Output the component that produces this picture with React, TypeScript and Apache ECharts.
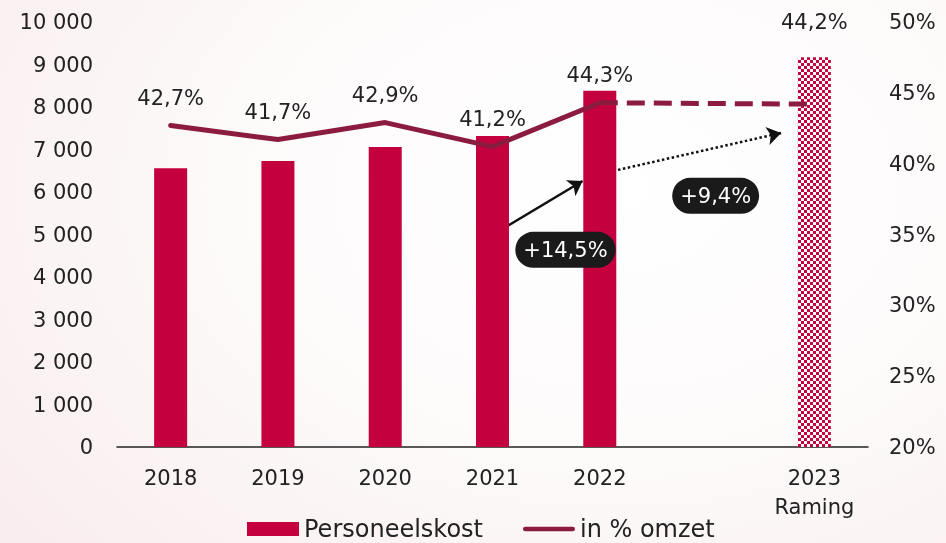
import React, { useEffect, useRef } from "react";
import * as echarts from "echarts";

const categories = ["2018", "2019", "2020", "2021", "2022", "", "2023\nRaming"];
const personeelskost = [6560, 6730, 7060, 7320, 8380, null, 9170];
const pctOmzet = [42.7, 41.7, 42.9, 41.2, 44.3, null, null];
const pctRaming = [null, null, null, null, 44.3, null, 44.2];
const arrowSolid = [[3.14, 5200], [3.84, 6260]];
const arrowDotted = [[4.17, 6520], [5.69, 7390]];
const growthLabels = [
  { text: "+14,5%", pos: [3.68, 4640] },
  { text: "+9,4%", pos: [5.08, 5910] },
];

const FONT = "DejaVu Sans";
const BAR = "#c5003e";
const LINE = "#8c1b40";
const TXT = "#222222";

const fmtPct = (v: number) => v.toFixed(1).replace(".", ",") + "%";

export default function App() {
  const ref = useRef<HTMLDivElement>(null);
  useEffect(() => {
    if (!ref.current) return;
    const chart = echarts.init(ref.current, null, { renderer: "svg" });
    const cv = document.createElement("canvas");
    cv.width = 6;
    cv.height = 6;
    const ctx = cv.getContext("2d")!;
    ctx.fillStyle = "#ffffff";
    ctx.fillRect(0, 0, 6, 6);
    ctx.fillStyle = BAR;
    ctx.fillRect(0, 0, 3, 3);
    ctx.fillRect(3, 3, 3, 3);

    const barData = personeelskost.map((v, i) =>
      i === 6
        ? { value: v, itemStyle: { color: { image: cv, repeat: "repeat" } } }
        : v
    );
    const lineLabel = {
      show: true,
      position: "top",
      distance: 17,
      fontFamily: FONT,
      fontSize: 21,
      color: TXT,
      formatter: (p: any) => fmtPct(p.value),
    };
    const ramingData = pctRaming.map((v, i) =>
      i === 6
        ? {
            value: v,
            label: {
              show: true,
              position: "top",
              distance: 72,
              fontFamily: FONT,
              fontSize: 21,
              color: TXT,
              formatter: (p: any) => fmtPct(p.value),
            },
          }
        : v
    );

    chart.setOption({
      animation: false,
      backgroundColor: "transparent",
      textStyle: { fontFamily: FONT },
      grid: { left: 117, right: 78, top: 22, bottom: 96, containLabel: false },
      legend: {
        left: 247,
        top: 517,
        padding: 0,
        itemWidth: 52,
        itemHeight: 14,
        itemGap: 40,
        textStyle: { fontFamily: FONT, fontSize: 24, lineHeight: 24, color: TXT },
        data: [
          { name: "Personeelskost", icon: "rect" },
          {
            name: "in % omzet",
            icon: "path://M2.5,0 L54.5,0 A2.5,2.5 0 0 1 54.5,5 L2.5,5 A2.5,2.5 0 0 1 2.5,0 Z",
            itemStyle: { color: LINE },
          },
        ],
      },
      xAxis: [
        {
          type: "category",
          data: categories,
          axisLine: { show: true, lineStyle: { color: TXT, width: 1.5 } },
          axisTick: { show: false },
          axisLabel: {
            margin: 16,
            fontFamily: FONT,
            fontSize: 21,
            lineHeight: 29,
            color: TXT,
          },
        },
        { type: "value", min: -0.5, max: 6.5, show: false },
      ],
      yAxis: [
        {
          type: "value",
          min: 0,
          max: 10000,
          interval: 1000,
          splitLine: { show: false },
          axisLine: { show: false },
          axisTick: { show: false },
          axisLabel: {
            margin: 24,
            fontFamily: FONT,
            fontSize: 21,
            color: TXT,
            formatter: (v: number) =>
              String(v).replace(/\B(?=(\d{3})+(?!\d))/g, " "),
          },
        },
        {
          type: "value",
          min: 20,
          max: 50,
          interval: 5,
          splitLine: { show: false },
          axisLine: { show: false },
          axisTick: { show: false },
          axisLabel: {
            margin: 21,
            fontFamily: FONT,
            fontSize: 21,
            color: TXT,
            formatter: "{value}%",
          },
        },
      ],
      series: [
        {
          name: "Personeelskost",
          type: "bar",
          barWidth: 33,
          data: barData,
          itemStyle: { color: BAR },
          silent: true,
        },
        {
          name: "in % omzet",
          type: "line",
          yAxisIndex: 1,
          data: pctOmzet,
          symbol: "circle",
          symbolSize: 0,
          showSymbol: true,
          lineStyle: { color: LINE, width: 5, cap: "round", join: "round" },
          itemStyle: { color: LINE },
          label: lineLabel,
          silent: true,
        },
        {
          name: "raming",
          type: "line",
          yAxisIndex: 1,
          data: ramingData,
          connectNulls: true,
          symbol: "circle",
          symbolSize: 0,
          showSymbol: true,
          itemStyle: { color: LINE },
          lineStyle: { color: LINE, width: 5, type: [18, 9] },
          silent: true,
        },
        {
          type: "lines",
          coordinateSystem: "cartesian2d",
          xAxisIndex: 1,
          yAxisIndex: 0,
          symbol: ["none", "arrow"],
          symbolSize: 14,
          silent: true,
          data: [
            { coords: arrowSolid, lineStyle: { type: "solid" } },
            { coords: arrowDotted, lineStyle: { type: [2.5, 2.5] } },
          ],
          lineStyle: { color: "#111111", width: 2.5, opacity: 1 },
        },
        {
          type: "scatter",
          xAxisIndex: 1,
          yAxisIndex: 0,
          symbolSize: 1,
          itemStyle: { color: "rgba(0,0,0,0)", opacity: 1 },
          silent: true,
          data: growthLabels.map((g) => ({ value: g.pos, name: g.text })),
          label: {
            show: true,
            position: "inside",
            formatter: (p: any) => p.name,
            fontFamily: FONT,
            fontSize: 21,
            color: "#ffffff",
            opacity: 1,
            backgroundColor: "#1a1a1a",
            borderRadius: 18,
            padding: [6, 8],
            lineHeight: 24,
          },
        },
      ],
    });
    return () => chart.dispose();
  }, []);

  return (
    <div
      style={{
        position: "fixed",
        left: 0,
        top: 0,
        width: 946,
        height: 543,
        background:
          "radial-gradient(ellipse 90% 110% at 65% 35%, #ffffff 0%, #fdfafa 45%, #f8eaec 100%)",
      }}
    >
      <div ref={ref} style={{ width: 946, height: 543 }} />
    </div>
  );
}
